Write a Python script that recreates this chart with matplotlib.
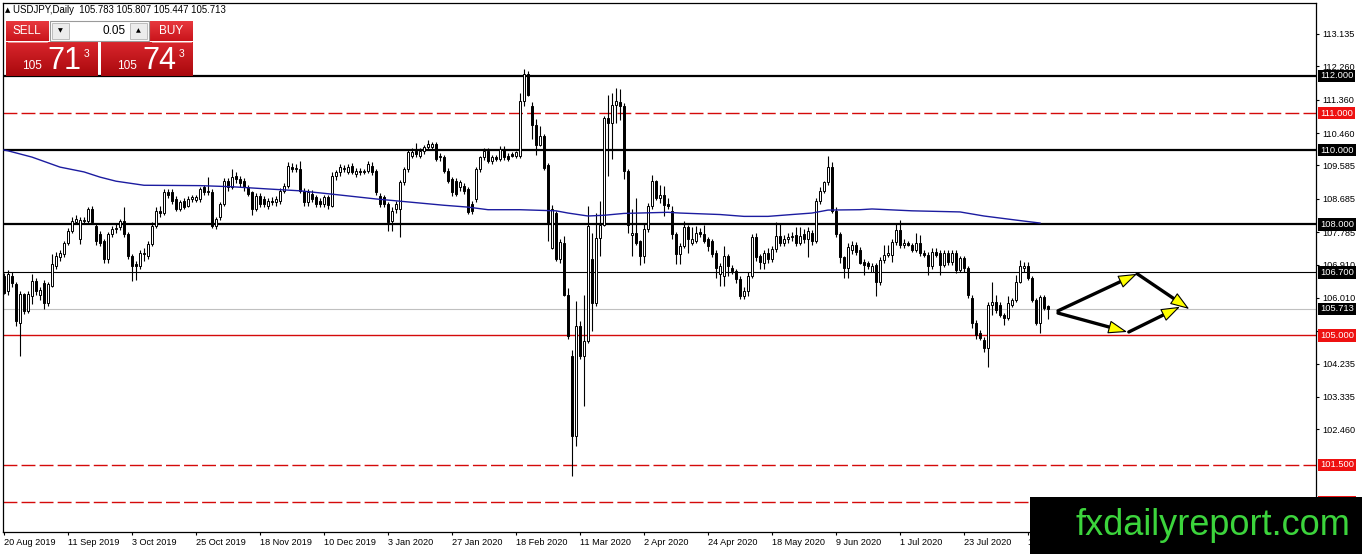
import numpy as np
import matplotlib.pyplot as plt
from matplotlib.patches import Rectangle, FancyArrowPatch
from matplotlib.colors import LinearSegmentedColormap
from matplotlib.transforms import blended_transform_factory

plt.rcParams['font.family'] = ['Liberation Sans', 'DejaVu Sans']

# daily USDJPY candles (bar 0 = 20 Aug 2019)
opens = [
    106.60, 106.20, 106.60, 106.38, 105.34, 106.11, 105.66, 106.06, 106.47, 106.10,
    106.42, 105.88, 106.33, 106.87, 107.10, 107.19, 107.50, 107.82, 108.05, 107.60,
    108.09, 108.09, 108.41, 107.95, 107.73, 107.55, 107.05, 107.73, 107.86, 107.91,
    108.09, 107.73, 107.14, 106.92, 106.87, 107.23, 107.14, 107.46, 107.95, 108.36,
    108.30, 108.86, 108.86, 108.68, 108.41, 108.63, 108.50, 108.68, 108.66, 108.68,
    108.99, 108.86, 108.86, 107.95, 108.18, 108.54, 109.17, 108.99, 109.30, 109.22,
    109.17, 108.99, 108.86, 108.41, 108.77, 108.68, 108.50, 108.63, 108.61, 108.63,
    108.90, 109.04, 109.55, 109.50, 109.50, 108.90, 108.59, 108.81, 108.72, 108.63,
    108.54, 108.72, 108.50, 109.31, 109.40, 109.50, 109.41, 109.58, 109.35, 109.44,
    109.41, 109.44, 109.58, 109.44, 108.77, 108.72, 108.54, 108.09, 108.41, 108.41,
    109.13, 109.49, 109.85, 109.98, 109.85, 109.98, 110.07, 110.07, 110.16, 109.85,
    109.80, 109.44, 109.22, 109.17, 108.99, 109.04, 108.95, 108.54, 108.68, 109.49,
    109.80, 109.98, 109.71, 109.80, 109.76, 110.03, 109.85, 109.89, 109.85, 109.84,
    111.32, 112.05, 111.19, 110.69, 110.15, 110.38, 109.61, 107.36, 108.30, 107.05,
    107.50, 106.10, 104.43, 102.27, 105.24, 104.43, 104.84, 107.05, 105.87, 107.63,
    107.99, 110.87, 110.74, 111.23, 111.30, 111.19, 109.43, 107.72, 107.77, 107.54,
    107.14, 107.86, 108.49, 109.16, 108.71, 108.80, 108.54, 108.36, 107.73, 107.19,
    107.41, 107.91, 107.50, 107.55, 107.79, 107.73, 107.59, 107.55, 107.23, 106.65,
    106.60, 107.14, 106.83, 106.74, 106.51, 106.06, 106.20, 106.60, 107.64, 107.13,
    106.96, 107.23, 107.05, 107.32, 107.68, 107.50, 107.59, 107.64, 107.70, 107.50,
    107.73, 107.59, 107.77, 107.55, 108.63, 108.90, 109.13, 109.53, 108.36, 107.73,
    107.10, 106.83, 107.30, 107.45, 107.30, 106.99, 106.95, 106.72, 106.90, 106.45,
    107.04, 107.17, 107.17, 107.53, 107.85, 107.44, 107.49, 107.44, 107.31, 107.49,
    107.22, 107.17, 106.86, 107.26, 107.22, 106.90, 107.22, 106.99, 107.22, 106.77,
    107.08, 106.81, 106.00, 105.32, 105.05, 104.87, 104.65, 105.82, 105.91, 105.82,
    105.55, 105.46, 105.82, 105.95, 106.45, 106.81, 106.86, 106.54, 105.95, 105.32,
    106.04, 105.783,
]
highs = [
    106.69, 106.75, 106.70, 106.45, 106.20, 106.15, 106.20, 106.65, 106.55, 106.30,
    106.50, 106.45, 107.19, 107.25, 107.30, 107.55, 107.90, 108.20, 108.25, 108.20,
    108.20, 108.45, 108.48, 108.00, 107.82, 107.60, 107.80, 107.95, 108.00, 108.15,
    108.45, 107.80, 107.20, 107.00, 107.30, 107.35, 107.55, 108.05, 108.45, 108.50,
    108.95, 108.95, 108.95, 108.75, 108.65, 108.70, 108.75, 108.80, 108.80, 109.00,
    109.05, 109.26, 108.95, 108.20, 108.60, 109.25, 109.25, 109.49, 109.40, 109.30,
    109.25, 109.05, 108.90, 108.85, 108.85, 108.75, 108.70, 108.72, 108.75, 108.98,
    109.10, 109.68, 109.65, 109.62, 109.71, 108.98, 108.95, 108.92, 108.80, 108.70,
    108.80, 108.80, 109.40, 109.45, 109.62, 109.60, 109.62, 109.65, 109.52, 109.52,
    109.50, 109.71, 109.68, 109.50, 108.85, 108.80, 108.60, 108.45, 108.62, 109.20,
    109.55, 110.00, 110.05, 110.20, 110.05, 110.15, 110.28, 110.22, 110.22, 109.92,
    109.88, 109.52, 109.28, 109.25, 109.20, 109.12, 109.00, 108.62, 109.55, 109.85,
    110.05, 110.05, 109.88, 109.88, 110.10, 110.10, 109.92, 109.95, 109.98, 111.55,
    112.18, 112.14, 111.30, 110.83, 110.65, 110.43, 109.66, 108.53, 108.35, 107.59,
    107.68, 106.28, 104.61, 105.92, 105.38, 106.10, 108.49, 107.77, 108.31, 108.62,
    110.92, 111.50, 111.55, 111.68, 111.64, 111.28, 109.48, 108.40, 108.71, 107.58,
    108.04, 108.58, 109.34, 109.20, 109.07, 109.04, 108.70, 108.50, 107.80, 107.50,
    108.09, 107.98, 107.91, 107.95, 107.90, 107.97, 107.65, 107.60, 107.30, 106.95,
    107.41, 107.20, 106.90, 106.80, 106.60, 106.30, 106.70, 107.73, 107.75, 107.20,
    107.30, 107.35, 107.40, 108.05, 108.00, 107.70, 107.75, 107.80, 107.91, 107.91,
    107.86, 107.91, 107.85, 108.70, 108.99, 109.17, 109.85, 109.68, 108.45, 107.80,
    107.15, 107.50, 107.55, 107.52, 107.38, 107.05, 107.00, 106.95, 106.95, 107.10,
    107.44, 107.44, 107.60, 108.03, 108.12, 107.60, 107.55, 107.50, 107.76, 107.71,
    107.30, 107.25, 107.35, 107.35, 107.30, 107.30, 107.30, 107.30, 107.30, 107.15,
    107.15, 106.86, 106.10, 105.40, 105.15, 104.95, 105.90, 106.45, 106.09, 105.90,
    105.60, 106.05, 106.00, 106.63, 107.04, 106.99, 106.99, 106.60, 106.00, 106.09,
    106.10, 105.807,
]
lows = [
    106.11, 106.10, 106.30, 105.25, 104.44, 105.57, 105.60, 105.84, 106.10, 105.95,
    105.70, 105.80, 106.30, 106.80, 107.00, 107.10, 107.45, 107.75, 108.00, 107.46,
    108.00, 108.00, 108.00, 107.45, 107.40, 106.95, 106.95, 107.65, 107.75, 107.85,
    107.65, 107.05, 106.47, 106.50, 106.80, 107.00, 107.05, 107.40, 107.90, 108.20,
    108.25, 108.70, 108.55, 108.35, 108.35, 108.40, 108.45, 108.60, 108.60, 108.60,
    108.80, 108.80, 107.90, 107.88, 108.10, 108.50, 108.90, 108.95, 109.10, 109.00,
    108.90, 108.75, 108.25, 108.35, 108.45, 108.45, 108.40, 108.52, 108.50, 108.55,
    108.85, 108.98, 109.40, 109.42, 108.85, 108.50, 108.50, 108.60, 108.45, 108.45,
    108.45, 108.42, 108.45, 109.20, 109.30, 109.40, 109.35, 109.35, 109.28, 109.33,
    109.35, 109.38, 109.33, 108.80, 108.45, 108.45, 107.82, 107.82, 108.30, 107.64,
    109.05, 109.42, 109.78, 109.80, 109.78, 109.90, 110.00, 110.00, 109.70, 109.70,
    109.38, 109.10, 108.75, 108.75, 108.90, 108.82, 108.27, 108.27, 108.60, 109.40,
    109.72, 109.65, 109.62, 109.70, 109.70, 109.72, 109.70, 109.80, 109.78, 109.79,
    111.19, 111.46, 110.29, 109.88, 110.10, 109.47, 107.54, 107.32, 107.00, 106.95,
    106.05, 104.90, 101.19, 102.00, 104.35, 103.08, 104.80, 105.11, 105.80, 107.14,
    107.94, 109.30, 109.75, 110.74, 110.80, 109.21, 107.77, 107.14, 107.45, 106.91,
    106.95, 107.78, 108.40, 108.66, 108.57, 108.22, 108.40, 107.59, 106.92, 106.92,
    107.35, 107.23, 107.45, 107.50, 107.65, 107.50, 107.28, 107.10, 106.56, 106.33,
    106.33, 106.60, 106.65, 106.42, 105.97, 105.98, 106.06, 106.55, 107.00, 106.78,
    106.78, 106.95, 106.98, 107.25, 107.40, 107.40, 107.50, 107.55, 107.40, 107.45,
    107.50, 107.10, 107.45, 107.50, 108.55, 108.85, 109.05, 108.30, 107.65, 106.96,
    106.56, 106.56, 107.20, 107.18, 106.92, 106.63, 106.80, 106.70, 106.05, 106.36,
    106.95, 107.10, 106.99, 107.45, 107.35, 107.35, 107.40, 107.25, 107.25, 107.15,
    107.10, 106.63, 106.80, 107.10, 106.63, 106.85, 106.90, 106.90, 106.68, 106.70,
    106.70, 106.00, 105.20, 104.90, 104.87, 104.55, 104.15, 105.55, 105.60, 105.50,
    105.28, 105.40, 105.77, 105.90, 106.40, 106.70, 106.50, 105.90, 105.28, 105.05,
    105.68, 105.447,
]
closes = [
    106.15, 106.65, 106.42, 105.39, 106.11, 105.66, 106.11, 106.47, 106.20, 106.22,
    105.88, 106.38, 106.92, 107.14, 107.23, 107.50, 107.82, 108.09, 108.14, 108.10,
    108.12, 108.41, 108.05, 107.55, 107.50, 107.05, 107.73, 107.86, 107.90, 108.09,
    107.73, 107.14, 106.87, 106.87, 107.23, 107.19, 107.46, 107.95, 108.36, 108.30,
    108.86, 108.80, 108.63, 108.41, 108.59, 108.45, 108.68, 108.72, 108.72, 108.95,
    108.86, 108.90, 107.95, 108.14, 108.54, 109.17, 108.99, 109.26, 109.22, 109.10,
    108.99, 108.81, 108.41, 108.77, 108.54, 108.54, 108.63, 108.60, 108.67, 108.90,
    109.04, 109.58, 109.50, 109.52, 108.90, 108.59, 108.86, 108.68, 108.54, 108.54,
    108.72, 108.52, 109.31, 109.40, 109.53, 109.50, 109.53, 109.40, 109.44, 109.40,
    109.43, 109.62, 109.40, 108.86, 108.54, 108.54, 108.05, 108.36, 108.54, 109.13,
    109.49, 109.94, 109.94, 109.89, 109.98, 110.07, 110.16, 110.16, 109.76, 109.80,
    109.44, 109.17, 108.86, 108.81, 109.13, 108.90, 108.32, 108.36, 109.49, 109.80,
    109.98, 109.71, 109.80, 109.76, 110.03, 109.80, 109.76, 109.85, 109.94, 111.32,
    112.05, 111.50, 110.69, 110.15, 110.38, 109.52, 108.04, 108.40, 107.05, 107.51,
    106.10, 104.97, 102.27, 105.24, 104.43, 104.84, 107.95, 105.87, 107.63, 107.99,
    110.87, 110.74, 111.23, 111.32, 111.20, 109.43, 107.99, 107.77, 107.50, 107.14,
    107.86, 108.49, 109.16, 108.71, 108.80, 108.52, 108.50, 107.73, 107.19, 107.41,
    107.91, 107.59, 107.59, 107.77, 107.73, 107.55, 107.41, 107.19, 106.83, 106.87,
    107.14, 106.87, 106.74, 106.51, 106.06, 106.20, 106.60, 107.64, 107.10, 106.98,
    107.23, 107.05, 107.32, 107.68, 107.50, 107.59, 107.64, 107.68, 107.50, 107.68,
    107.59, 107.82, 107.55, 108.63, 108.90, 109.13, 109.53, 108.36, 107.73, 107.10,
    106.83, 107.37, 107.45, 107.26, 106.95, 106.90, 106.86, 106.86, 106.45, 107.04,
    107.17, 107.22, 107.53, 107.85, 107.44, 107.49, 107.44, 107.31, 107.49, 107.22,
    107.17, 106.86, 107.26, 107.17, 106.90, 107.22, 106.99, 107.22, 106.77, 107.08,
    106.81, 106.09, 105.32, 105.01, 104.92, 104.65, 105.82, 105.91, 105.68, 105.55,
    105.46, 105.86, 105.95, 106.45, 106.86, 106.86, 106.54, 105.95, 105.32, 106.04,
    105.73, 105.713,
]

# moving average line (blue), sampled along the chart
ma_idx = [0, 1, 7, 14, 20, 24, 28, 35, 49, 57, 66, 74, 82, 93, 101, 110, 116, 121, 129, 138,
          141, 146, 150, 155, 166, 169, 179, 185, 191, 197, 202, 206, 214, 217, 227, 239, 245, 253, 259]
ma_val = [110.00, 109.98, 109.81, 109.54, 109.41, 109.27, 109.16, 109.05, 109.04, 109.01,
          108.95, 108.90, 108.81, 108.68, 108.60, 108.51, 108.46, 108.39, 108.39, 108.36,
          108.30, 108.22, 108.24, 108.29, 108.32, 108.30, 108.26, 108.21, 108.21, 108.26,
          108.30, 108.38, 108.39, 108.41, 108.36, 108.33, 108.22, 108.11, 108.03]

date_idx = list(range(0, 257, 16))
date_labels = ['20 Aug 2019', '11 Sep 2019', '3 Oct 2019', '25 Oct 2019', '18 Nov 2019',
               '10 Dec 2019', '3 Jan 2020', '27 Jan 2020', '18 Feb 2020', '11 Mar 2020',
               '2 Apr 2020', '24 Apr 2020', '18 May 2020', '9 Jun 2020', '1 Jul 2020',
               '23 Jul 2020', '13 Aug 2020']
price_ticks = [113.135, 112.260, 111.360, 110.460, 109.585, 108.685, 107.785, 106.910,
               106.010, 105.110, 104.235, 103.335, 102.460]

thick_levels = [112.0, 110.0, 108.0]
dashed_levels = [111.0, 101.5, 100.5]
thin_black_level = 106.7
red_level = 105.0
last_price = 105.713

# hand-drawn scenario arrows (bar index, price)
arrows = [((263.5, 105.66), (283.3, 106.66)),
          ((283.3, 106.66), (296.3, 105.71)),
          ((263.5, 105.60), (280.8, 105.09)),
          ((281.2, 105.09), (294.0, 105.77))]

W, H = 1362, 554
fig = plt.figure(figsize=(W / 100, H / 100), dpi=100)
ax = fig.add_axes([3 / W, 22 / H, 1313 / W, 529 / H])

RED = '#d40a0a'
x = np.arange(len(closes))
o, h, l, c = map(np.array, (opens, highs, lows, closes))

# levels
for lv in thick_levels:
    ax.axhline(lv, color='black', lw=1.6, zorder=2)
for lv in dashed_levels:
    ax.axhline(lv, color=RED, lw=1.0, ls=(0, (10, 3)), zorder=2)
ax.axhline(thin_black_level, color='black', lw=0.8, zorder=2)
ax.axhline(red_level, color=RED, lw=1.0, zorder=2)
ax.axhline(last_price, color='#c0c0c0', lw=0.8, zorder=1)

# candles
ax.vlines(x, l, h, color='black', lw=0.8, zorder=3)
body_lo = np.minimum(o, c)
body_h = np.maximum(np.abs(c - o), 0.02)
face = ['white' if cc >= oo else 'black' for oo, cc in zip(opens, closes)]
ax.bar(x, body_h, bottom=body_lo, width=0.6, color=face, edgecolor='black',
       linewidth=0.7, zorder=4)

ax.plot(ma_idx, ma_val, color='#1c1ca0', lw=1.0, zorder=5)

# arrows
for (p0, p1) in arrows:
    ax.add_patch(FancyArrowPatch(p0, p1, arrowstyle='-', lw=2.4, color='black',
                                 shrinkA=0, shrinkB=9, zorder=7))
    ax.add_patch(FancyArrowPatch(p0, p1, arrowstyle='-|>,head_length=12,head_width=4.2',
                                 mutation_scale=1, lw=0.8, fc='#ffff00', ec='black',
                                 shrinkA=0, shrinkB=0, zorder=8))

ax.set_xlim(-0.25, 328)
ax.set_ylim(99.69, 113.97)

ax.yaxis.tick_right()
ax.set_yticks(price_ticks)
ax.set_yticklabels(['%.3f' % v for v in price_ticks])
ax.set_xticks(date_idx)
ax.set_xticklabels(date_labels, ha='left')
ax.tick_params(axis='y', direction='out', length=2.5, width=0.8, pad=2, labelsize=6.6)
ax.tick_params(axis='x', direction='out', length=2.5, width=0.8, pad=1.5, labelsize=6.6)
for s in ax.spines.values():
    s.set_linewidth(0.9)

# price labels on the right scale
trans = blended_transform_factory(ax.transAxes, ax.transData)
boxes = [(112.0, 'black'), (111.0, '#ee1111'), (110.0, 'black'), (108.0, 'black'),
         (106.7, 'black'), (105.713, 'black'), (105.0, '#ee1111'), (101.5, '#ee1111'),
         (100.5, '#ee1111')]
for lv, col in boxes:
    ax.text(1.0032, lv, '%.3f' % lv, transform=trans, ha='left', va='center',
            fontsize=6.7, color='white', zorder=6, clip_on=False,
            bbox=dict(boxstyle='square,pad=0.2', fc=col, ec='none'))

# overlay in pixel coordinates: header, one-click panel, logo
ov = fig.add_axes([0, 0, 1, 1], zorder=10)
ov.axis('off')


def grad(x0, y0, x1, y1, top, bot):
    cm = LinearSegmentedColormap.from_list('g', [top, bot])
    ov.imshow(np.linspace(0, 1, 64).reshape(-1, 1), cmap=cm, aspect='auto',
              extent=(x0, x1, y1, y0), interpolation='bilinear', zorder=2)


ov.text(5, 10, '\u25b2', fontsize=5, va='center', ha='left', family='DejaVu Sans')
ov.text(13, 10, 'USDJPY,Daily  105.783 105.807 105.447 105.713', fontsize=6.9,
        va='center', ha='left')

grad(6, 21, 49, 41, '#e8383e', '#c9141b')
grad(150, 21, 193, 41, '#e8383e', '#c9141b')
grad(6, 42, 98, 76, '#d9262c', '#a9080d')
grad(101, 42, 193, 76, '#d9262c', '#a9080d')
ov.plot([8, 47], [41.5, 41.5], color='#f0a0a0', lw=0.6, zorder=3)
ov.plot([152, 191], [41.5, 41.5], color='#f0a0a0', lw=0.6, zorder=3)
ov.text(27, 31, 'SELL', color='white', fontsize=8.5, ha='center', va='center', zorder=4)
ov.text(171, 31, 'BUY', color='white', fontsize=8.5, ha='center', va='center', zorder=4)

ov.add_patch(Rectangle((50, 21), 99, 20, fc='white', ec='#9a9a9a', lw=0.8, zorder=3))
ov.add_patch(Rectangle((52, 23), 17, 16, fc='#ececec', ec='#b4b4b4', lw=0.6, zorder=4))
ov.add_patch(Rectangle((130, 23), 17, 16, fc='#ececec', ec='#b4b4b4', lw=0.6, zorder=4))
ov.text(60.5, 31, '\u25bc', fontsize=4.5, ha='center', va='center', family='DejaVu Sans', zorder=5)
ov.text(138.5, 31, '\u25b2', fontsize=4.5, ha='center', va='center', family='DejaVu Sans', zorder=5)
ov.text(126, 31, '0.05', fontsize=8.5, ha='right', va='center', zorder=5)

for x0, big, small in [(22, '71', '3'), (117, '74', '3')]:
    ov.text(x0, 69, '105', color='white', fontsize=8.6, ha='left', va='baseline', zorder=5)
    ov.text(x0 + 25, 69, big, color='white', fontsize=22, ha='left', va='baseline', zorder=5)
    ov.text(x0 + 62, 57, small, color='white', fontsize=7.5, ha='left', va='baseline', zorder=5)

ov.add_patch(Rectangle((1030, 497), 332, 57, fc='black', ec='none', zorder=3))
ov.text(1213, 535, 'fxdailyreport.com', color='#3cd43c', fontsize=26, ha='center',
        va='baseline', zorder=4)

ov.set_xlim(0, W)
ov.set_ylim(H, 0)

fig.savefig('out.png', dpi=100)
